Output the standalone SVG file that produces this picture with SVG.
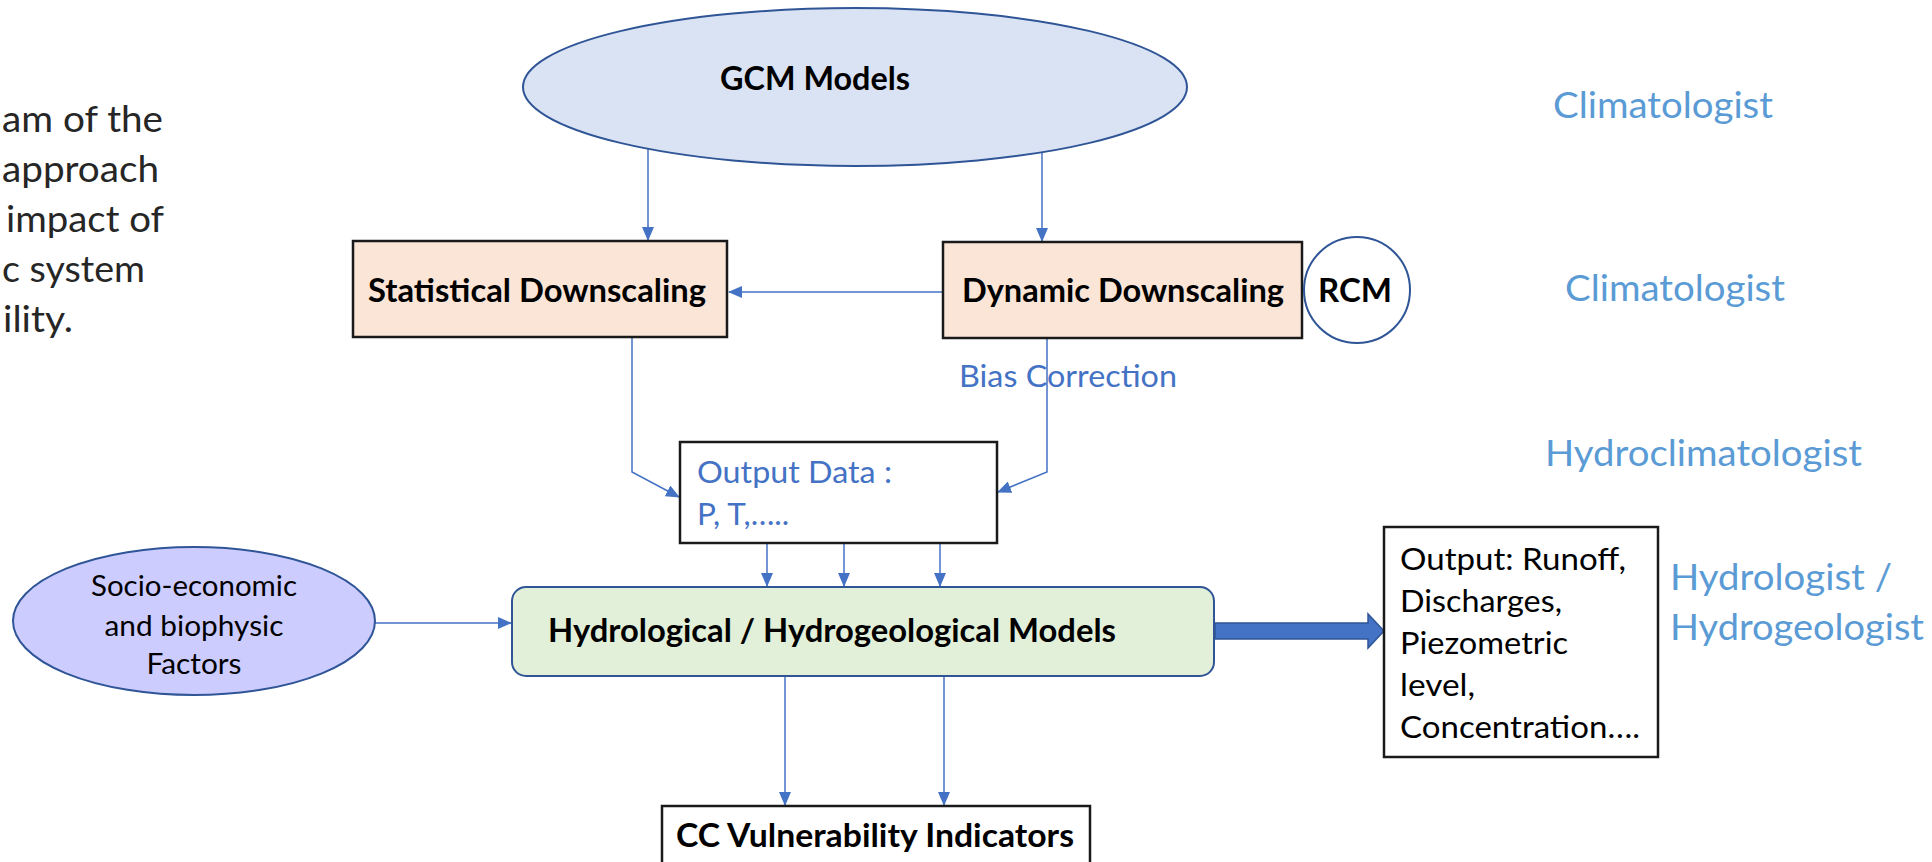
<svg xmlns="http://www.w3.org/2000/svg" width="1932" height="862" viewBox="0 0 1932 862">
<defs>
<style>
.t{font-family:Lato,"Open Sans","Liberation Sans",sans-serif;}
.b{font-weight:bold;fill:#000;font-size:31.5px;}
.r{fill:#000;font-size:31.5px;}
.blue{fill:#4472c4;font-size:31.5px;}
.role{fill:#5b9bd5;font-size:37px;}
.side{fill:#262626;font-size:37px;}
.con{fill:none;stroke:#4472c4;stroke-width:1.5;marker-end:url(#ah);}
.box{stroke:#1a1a1a;stroke-width:2.5;}
</style>
<marker id="ah" markerWidth="14" markerHeight="12" refX="13" refY="6" orient="auto" markerUnits="userSpaceOnUse">
<path d="M0,0 L14,6 L0,12 Z" fill="#4472c4"/>
</marker>
</defs>
<rect width="1932" height="862" fill="#fff"/>

<g id="side-text" class="t">
<text class="t side" x="2" y="132" textLength="161" lengthAdjust="spacingAndGlyphs">am of the</text>
<text class="t side" x="2" y="182" textLength="157" lengthAdjust="spacingAndGlyphs">approach</text>
<text class="t side" x="6" y="232" textLength="158" lengthAdjust="spacingAndGlyphs">impact of</text>
<text class="t side" x="2" y="282" textLength="143" lengthAdjust="spacingAndGlyphs">c system</text>
<text class="t side" x="3" y="332" textLength="70" lengthAdjust="spacingAndGlyphs">ility.</text>
</g>

<g id="roles">
<text class="t role" x="1553" y="118" textLength="220" lengthAdjust="spacingAndGlyphs">Climatologist</text>
<text class="t role" x="1565" y="301" textLength="220" lengthAdjust="spacingAndGlyphs">Climatologist</text>
<text class="t role" x="1545" y="466" textLength="317" lengthAdjust="spacingAndGlyphs">Hydroclimatologist</text>
<text class="t role" x="1670" y="590" textLength="222" lengthAdjust="spacingAndGlyphs">Hydrologist /</text>
<text class="t role" x="1670" y="640" textLength="254" lengthAdjust="spacingAndGlyphs">Hydrogeologist</text>
</g>

<g id="connectors">
<line class="con" x1="648" y1="149" x2="648" y2="240"/>
<line class="con" x1="1042" y1="152" x2="1042" y2="241"/>
<line class="con" x1="943" y1="292" x2="729" y2="292"/>
<polyline class="con" points="632,337 632,472 679,497"/>
<polyline class="con" points="1047,338 1047,472 998,492"/>
<line class="con" x1="767" y1="543" x2="767" y2="586"/>
<line class="con" x1="844" y1="543" x2="844" y2="586"/>
<line class="con" x1="940" y1="543" x2="940" y2="586"/>
<line class="con" x1="375" y1="623" x2="511" y2="623"/>
<line class="con" x1="785" y1="676" x2="785" y2="805"/>
<line class="con" x1="944" y1="676" x2="944" y2="805"/>
<path d="M1215,623 L1368,623 L1368,614 L1384,631 L1368,648 L1368,639 L1215,639 Z" fill="#4472c4" stroke="#2f5597" stroke-width="1.5"/>
</g>

<g id="gcm">
<ellipse cx="855" cy="87" rx="332" ry="79" fill="#dae3f3" stroke="#2f5597" stroke-width="2"/>
<text class="t b" x="720" y="90" textLength="190" lengthAdjust="spacingAndGlyphs">GCM Models</text>
</g>

<g id="statistical">
<rect class="box" x="353" y="241" width="374" height="96" fill="#fbe5d6"/>
<text class="t b" x="368" y="302" textLength="338" lengthAdjust="spacingAndGlyphs">Statistical Downscaling</text>
</g>

<g id="dynamic">
<rect class="box" x="943" y="242" width="359" height="96" fill="#fbe5d6"/>
<text class="t b" x="962" y="302" textLength="322" lengthAdjust="spacingAndGlyphs">Dynamic Downscaling</text>
</g>

<g id="rcm">
<circle cx="1357" cy="290" r="53" fill="#fff" stroke="#2f5597" stroke-width="2"/>
<text class="t b" x="1318" y="302" textLength="74" lengthAdjust="spacingAndGlyphs">RCM</text>
</g>

<g id="bias">
<text class="t blue" x="959" y="387" textLength="218" lengthAdjust="spacingAndGlyphs">Bias Correction</text>
</g>

<g id="output-data">
<rect class="box" x="680" y="442" width="317" height="101" fill="#fff" stroke-width="2"/>
<text class="t blue" x="697" y="483" textLength="195" lengthAdjust="spacingAndGlyphs">Output Data :</text>
<text class="t blue" x="697" y="525">P, T,…..</text>
</g>

<g id="socio">
<ellipse cx="194" cy="621" rx="181" ry="74" fill="#ccccff" stroke="#2f5597" stroke-width="2"/>
<text class="t r" x="194" y="596" text-anchor="middle" font-size="29" style="font-size:29px" textLength="206" lengthAdjust="spacingAndGlyphs">Socio-economic</text>
<text class="t r" x="194" y="636" text-anchor="middle" style="font-size:29px" textLength="179" lengthAdjust="spacingAndGlyphs">and biophysic</text>
<text class="t r" x="194" y="674" text-anchor="middle" style="font-size:29px" textLength="95" lengthAdjust="spacingAndGlyphs">Factors</text>
</g>

<g id="hydro">
<rect x="512" y="587" width="702" height="89" rx="14" fill="#e2f0d9" stroke="#2f5597" stroke-width="2"/>
<text class="t b" x="548" y="642" textLength="568" lengthAdjust="spacingAndGlyphs">Hydrological / Hydrogeological Models</text>
</g>

<g id="outputs">
<rect class="box" x="1384" y="527" width="274" height="230" fill="#fff" stroke-width="2"/>
<text class="t r" x="1400" y="570" textLength="226" lengthAdjust="spacingAndGlyphs">Output: Runoff,</text>
<text class="t r" x="1400" y="612" textLength="162" lengthAdjust="spacingAndGlyphs">Discharges,</text>
<text class="t r" x="1400" y="654" textLength="168" lengthAdjust="spacingAndGlyphs">Piezometric</text>
<text class="t r" x="1400" y="696" textLength="75" lengthAdjust="spacingAndGlyphs">level,</text>
<text class="t r" x="1400" y="738" textLength="240" lengthAdjust="spacingAndGlyphs">Concentration….</text>
</g>

<g id="cc">
<rect class="box" x="662" y="806" width="428" height="80" fill="#fff" stroke-width="2"/>
<text class="t b" x="676" y="847" textLength="398" lengthAdjust="spacingAndGlyphs">CC  Vulnerability Indicators</text>
</g>
</svg>
